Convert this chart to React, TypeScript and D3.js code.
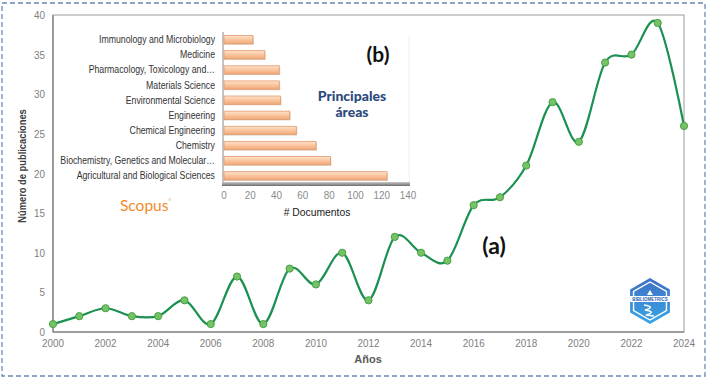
import React from "react";
import * as d3 from "d3";

const years = [2000, 2001, 2002, 2003, 2004, 2005, 2006, 2007, 2008, 2009, 2010, 2011, 2012, 2013, 2014, 2015, 2016, 2017, 2018, 2019, 2020, 2021, 2022, 2023, 2024];
const publications = [1, 2, 3, 2, 2, 4, 1, 7, 1, 8, 6, 10, 4, 12, 10, 9, 16, 17, 21, 29, 24, 34, 35, 39, 26];
const yTicks = [0, 5, 10, 15, 20, 25, 30, 35, 40];
const xTicks = [2000, 2002, 2004, 2006, 2008, 2010, 2012, 2014, 2016, 2018, 2020, 2022, 2024];

const areas = [
  "Immunology and Microbiology",
  "Medicine",
  "Pharmacology, Toxicology and…",
  "Materials Science",
  "Environmental Science",
  "Engineering",
  "Chemical Engineering",
  "Chemistry",
  "Biochemistry, Genetics and Molecular…",
  "Agricultural and Biological Sciences",
];
const documents = [22, 31, 42, 42, 43, 50, 55, 70, 81, 124];
const docTicks = [0, 20, 40, 60, 80, 100, 120, 140];

const W = 708;
const H = 380;
const arial = "'Liberation Sans', Arial, sans-serif";
const calib = "Lato, 'Open Sans', sans-serif";

function NText(props: any) {
  const { x, y, sx = 0.86, rot = 0, children, ...rest } = props;
  return (
    <text transform={`translate(${x},${y}) rotate(${rot}) scale(${sx},1)`} fontFamily={arial} {...rest}>
      {children}
    </text>
  );
}

export default function App() {
  const x = d3.scaleLinear().domain([2000, 2024]).range([53, 684]);
  const y = d3.scaleLinear().domain([0, 40]).range([332, 15]);
  const line = d3
    .line<number>()
    .x((_, i) => x(years[i]))
    .y((d) => y(d))
    .curve(d3.curveCatmullRom.alpha(0));
  const path = line(publications) || "";

  const bx = d3.scaleLinear().domain([0, 140]).range([224, 408]);
  const by = d3.scaleBand<string>().domain(areas).range([32.5, 183]).paddingInner(0.45).paddingOuter(0.2);

  // hexagon logo
  const cx = 650, cy = 301, R = 23;
  const hex = (r: number) =>
    d3.range(6).map((k) => {
      const a = (Math.PI / 3) * k - Math.PI / 2;
      return [cx + r * Math.cos(a), cy + r * Math.sin(a)] as [number, number];
    });
  const hexPath = (r: number) => "M" + hex(r).map((p) => p.join(",")).join("L") + "Z";

  return (
    <svg width={W} height={H} style={{ position: "absolute", left: 0, top: 0, background: "#fff" }}>
      <defs>
        <linearGradient id="barG" x1="0" y1="0" x2="0" y2="1">
          <stop offset="0" stopColor="#fde3cf" />
          <stop offset="0.5" stopColor="#f9c49c" />
          <stop offset="1" stopColor="#f0a878" />
        </linearGradient>
        <linearGradient id="floorG" x1="0" y1="0" x2="0" y2="1">
          <stop offset="0" stopColor="#c8c8c8" />
          <stop offset="1" stopColor="#6e6e6e" />
        </linearGradient>
        <linearGradient id="hexG" x1="0" y1="0" x2="0" y2="1">
          <stop offset="0" stopColor="#3f6fc4" />
          <stop offset="1" stopColor="#39a6e6" />
        </linearGradient>
      </defs>
      <rect x={2} y={3} width={703} height={373} fill="none" stroke="#6f87b6" strokeWidth={1.3} strokeDasharray="5,3" />

      {/* main frame */}
      <rect x={53} y={15} width={631} height={317} fill="none" stroke="#9a9a9a" strokeWidth={1} />
      <line x1={53} y1={15} x2={53} y2={332} stroke="#8c8c8c" strokeWidth={1.5} />
      <line x1={53} y1={332} x2={684} y2={332} stroke="#8c8c8c" strokeWidth={1.5} />

      {yTicks.map((t) => (
        <NText key={t} x={45} y={y(t) + 4} textAnchor="end" fontSize={11.5} fill="#808080">
          {t}
        </NText>
      ))}
      {xTicks.map((t) => (
        <NText key={t} x={x(t)} y={347} textAnchor="middle" fontSize={11.5} fill="#808080">
          {t}
        </NText>
      ))}
      <text x={368} y={363} textAnchor="middle" fontFamily={arial} fontWeight="bold" fontSize={11} fill="#595959">
        Años
      </text>
      <NText x={26} y={166} rot={-90} sx={0.85} textAnchor="middle" fontWeight="bold" fontSize={11} fill="#404040">
        Número de publicaciones
      </NText>

      {/* inset bar chart */}
      <line x1={223} y1={32} x2={223} y2={185} stroke="#c4c4c4" strokeWidth={2} />
      <line x1={409} y1={35} x2={409} y2={182} stroke="#f0f0f0" strokeWidth={1} />
      <rect x={222} y={182} width={188} height={4} fill="url(#floorG)" />
      {areas.map((a, i) => (
        <g key={a}>
          <rect x={bx(0)} y={by(a)! + 1} width={bx(documents[i]) - bx(0) + 1} height={by.bandwidth()} fill="#b9a08c" opacity={0.45} />
          <rect
            x={bx(0)}
            y={by(a)!}
            width={bx(documents[i]) - bx(0)}
            height={by.bandwidth()}
            fill="url(#barG)"
            stroke="#e39a6b"
            strokeWidth={0.8}
          />
          <NText x={215} y={by(a)! + by.bandwidth() / 2 + 3.5} sx={0.875} textAnchor="end" fontSize={10} fill="#333">
            {a}
          </NText>
        </g>
      ))}
      {docTicks.map((t) => (
        <NText key={t} x={bx(t)} y={199} textAnchor="middle" fontSize={11.5} fill="#8a8a8a">
          {t}
        </NText>
      ))}
      <NText x={317} y={216} sx={0.9} textAnchor="middle" fontSize={11.5} fill="#1a1a1a">
        # Documentos
      </NText>

      <text x={120} y={211} fontFamily={calib} fontSize={15.5} fill="#f08a2c">
        Scopus
        <tspan fontSize={6} dy={-8}>°</tspan>
      </text>

      <text x={378} y={62} textAnchor="middle" fontFamily={calib} fontWeight="bold" fontSize={21} fill="#111">
        (b)
      </text>
      <text x={352} y={101} textAnchor="middle" fontFamily={calib} fontWeight={900} fontSize={14} fill="#2c4a7c">
        Principales
      </text>
      <text x={352} y={117} textAnchor="middle" fontFamily={calib} fontWeight={900} fontSize={14} fill="#2c4a7c">
        áreas
      </text>

      <text x={494} y={254} textAnchor="middle" fontFamily={calib} fontWeight="bold" fontSize={23} fill="#111">
        (a)
      </text>

      {/* line */}
      <path d={path} fill="none" stroke="#1b9150" strokeWidth={2.2} />
      {publications.map((v, i) => (
        <circle key={i} cx={x(years[i])} cy={y(v)} r={3.6} fill="#74c365" stroke="#4a9e46" strokeWidth={1} />
      ))}

      {/* logo */}
      <path d={hexPath(R)} fill="url(#hexG)" />
      <path d={hexPath(R - 4)} fill="none" stroke="#fff" strokeWidth={1.4} />
      <rect x={cx - 20} y={cy - 5} width={40} height={6} fill="#fff" />
      <text x={cx} y={cy} textAnchor="middle" fontFamily={arial} fontSize={4.5} fontWeight="bold" fill="#2d5fb0">
        BIBLIOMETRICS
      </text>
      <path d={`M${cx - 3},${cy - 6} L${cx},${cy - 11} L${cx + 3},${cy - 6} Z`} fill="#fff" />
      <path
        d={`M${cx - 6},${cy + 4} Q${cx + 6},${cy + 6} ${cx - 5},${cy + 9} Q${cx + 7},${cy + 11} ${cx - 4},${cy + 14} L${cx + 4},${cy + 15}`}
        fill="none"
        stroke="#fff"
        strokeWidth={1.6}
      />
    </svg>
  );
}
